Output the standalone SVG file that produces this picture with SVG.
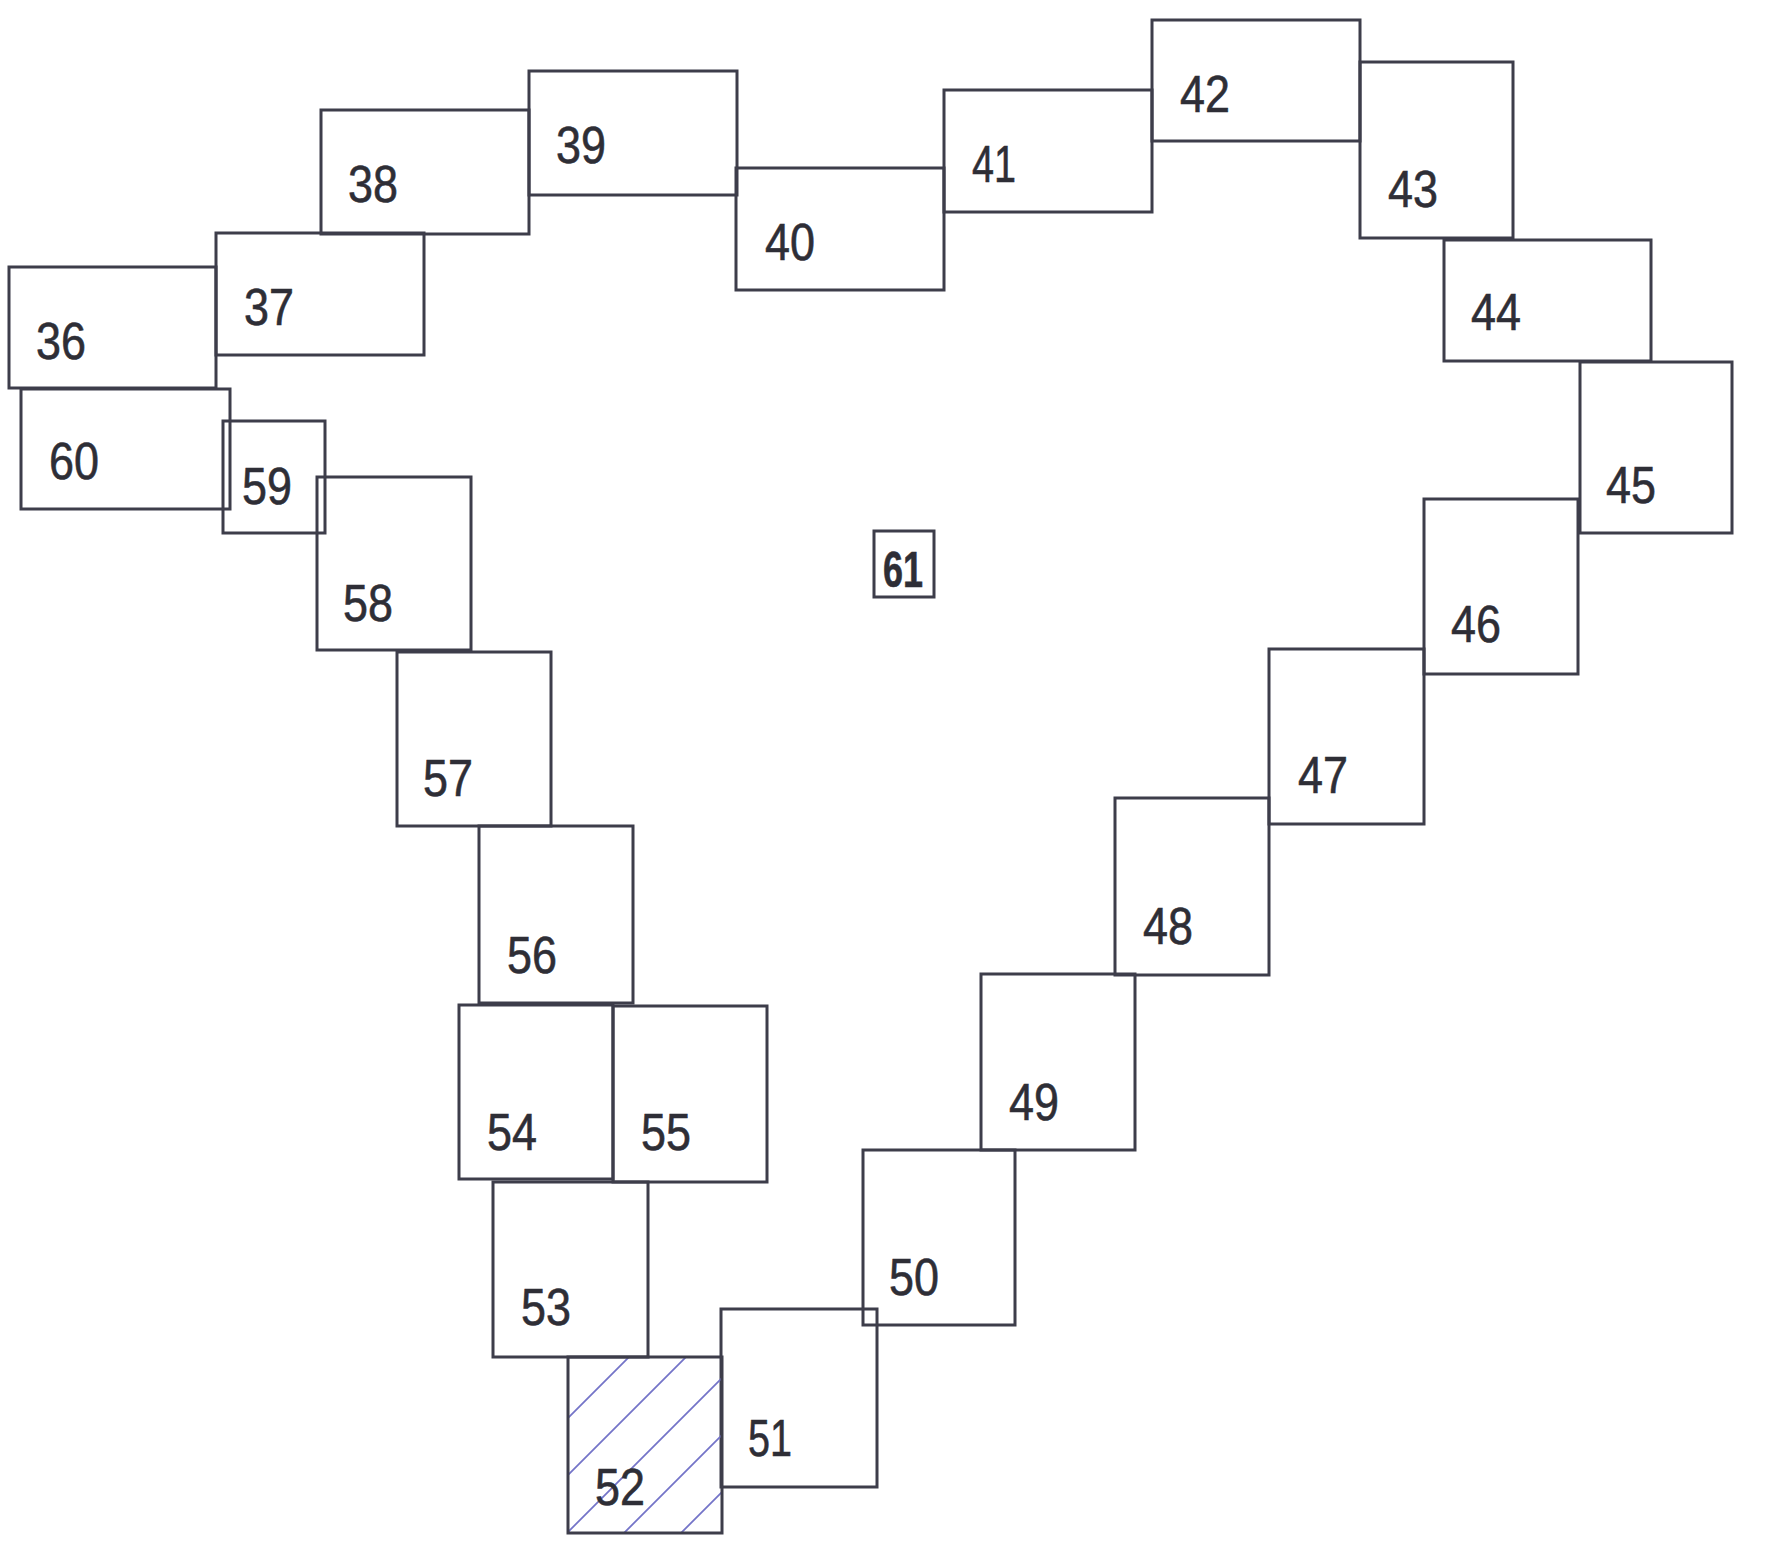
<svg xmlns="http://www.w3.org/2000/svg" width="1787" height="1544" viewBox="0 0 1787 1544">
<style>
.b{fill:none;stroke:#3d3d4a;stroke-width:3}
.t{font-family:"Liberation Sans",Arial,sans-serif;font-size:51px;fill:#2e2e36;stroke:#2e2e36;stroke-width:0.6}
.h{stroke:#7474c8;stroke-width:1.8}
</style>
<defs>
<clipPath id="c52"><rect x="568" y="1357" width="154" height="176"/></clipPath>
</defs>
<rect width="1787" height="1544" fill="#ffffff"/>
<g id="n36"><rect class="b" x="9" y="267" width="207" height="121"/><text class="t" x="36" y="359" textLength="50" lengthAdjust="spacingAndGlyphs">36</text></g>
<g id="n37"><rect class="b" x="216" y="233" width="208" height="122"/><text class="t" x="244" y="325" textLength="50" lengthAdjust="spacingAndGlyphs">37</text></g>
<g id="n38"><rect class="b" x="321" y="110" width="208" height="124"/><text class="t" x="348" y="202" textLength="50" lengthAdjust="spacingAndGlyphs">38</text></g>
<g id="n39"><rect class="b" x="529" y="71" width="208" height="124"/><text class="t" x="556" y="163" textLength="50" lengthAdjust="spacingAndGlyphs">39</text></g>
<g id="n40"><rect class="b" x="736" y="168" width="208" height="122"/><text class="t" x="765" y="260" textLength="50" lengthAdjust="spacingAndGlyphs">40</text></g>
<g id="n41"><rect class="b" x="944" y="90" width="208" height="122"/><text class="t" x="972" y="182" textLength="44" lengthAdjust="spacingAndGlyphs">41</text></g>
<g id="n42"><rect class="b" x="1152" y="20" width="208" height="121"/><text class="t" x="1180" y="112" textLength="50" lengthAdjust="spacingAndGlyphs">42</text></g>
<g id="n43"><rect class="b" x="1360" y="62" width="153" height="176"/><text class="t" x="1388" y="207" textLength="50" lengthAdjust="spacingAndGlyphs">43</text></g>
<g id="n44"><rect class="b" x="1444" y="240" width="207" height="121"/><text class="t" x="1471" y="330" textLength="50" lengthAdjust="spacingAndGlyphs">44</text></g>
<g id="n45"><rect class="b" x="1580" y="362" width="152" height="171"/><text class="t" x="1606" y="503" textLength="50" lengthAdjust="spacingAndGlyphs">45</text></g>
<g id="n46"><rect class="b" x="1424" y="499" width="154" height="175"/><text class="t" x="1451" y="642" textLength="50" lengthAdjust="spacingAndGlyphs">46</text></g>
<g id="n47"><rect class="b" x="1269" y="649" width="155" height="175"/><text class="t" x="1298" y="793" textLength="50" lengthAdjust="spacingAndGlyphs">47</text></g>
<g id="n48"><rect class="b" x="1115" y="798" width="154" height="177"/><text class="t" x="1143" y="944" textLength="50" lengthAdjust="spacingAndGlyphs">48</text></g>
<g id="n49"><rect class="b" x="981" y="974" width="154" height="176"/><text class="t" x="1009" y="1120" textLength="50" lengthAdjust="spacingAndGlyphs">49</text></g>
<g id="n50"><rect class="b" x="863" y="1150" width="152" height="175"/><text class="t" x="889" y="1295" textLength="50" lengthAdjust="spacingAndGlyphs">50</text></g>
<g id="n51"><rect class="b" x="721" y="1309" width="156" height="178"/><text class="t" x="748" y="1456" textLength="44" lengthAdjust="spacingAndGlyphs">51</text></g>
<g id="n52">
<g clip-path="url(#c52)">
<line class="h" x1="540" y1="1446" x2="650" y2="1336"/>
<line class="h" x1="540" y1="1503" x2="750" y2="1293"/>
<line class="h" x1="540" y1="1560" x2="750" y2="1350"/>
<line class="h" x1="560" y1="1597" x2="750" y2="1407"/>
<line class="h" x1="617" y1="1597" x2="750" y2="1464"/>
</g>
<rect class="b" x="568" y="1357" width="154" height="176"/><text class="t" x="595" y="1505" textLength="50" lengthAdjust="spacingAndGlyphs">52</text></g>
<g id="n53"><rect class="b" x="493" y="1182" width="155" height="175"/><text class="t" x="521" y="1325" textLength="50" lengthAdjust="spacingAndGlyphs">53</text></g>
<g id="n54"><rect class="b" x="459" y="1005" width="154" height="174"/><text class="t" x="487" y="1150" textLength="50" lengthAdjust="spacingAndGlyphs">54</text></g>
<g id="n55"><rect class="b" x="613" y="1006" width="154" height="176"/><text class="t" x="641" y="1150" textLength="50" lengthAdjust="spacingAndGlyphs">55</text></g>
<g id="n56"><rect class="b" x="479" y="826" width="154" height="177"/><text class="t" x="507" y="973" textLength="50" lengthAdjust="spacingAndGlyphs">56</text></g>
<g id="n57"><rect class="b" x="397" y="652" width="154" height="174"/><text class="t" x="423" y="796" textLength="50" lengthAdjust="spacingAndGlyphs">57</text></g>
<g id="n58"><rect class="b" x="317" y="477" width="154" height="173"/><text class="t" x="343" y="621" textLength="50" lengthAdjust="spacingAndGlyphs">58</text></g>
<g id="n59"><rect class="b" x="223" y="421" width="102" height="112"/><text class="t" x="242" y="504" textLength="50" lengthAdjust="spacingAndGlyphs">59</text></g>
<g id="n60"><rect class="b" x="21" y="389" width="209" height="120"/><text class="t" x="49" y="479" textLength="50" lengthAdjust="spacingAndGlyphs">60</text></g>
<g id="n61"><rect class="b" x="874" y="531" width="60" height="66"/><text class="t" x="883" y="587" textLength="40" lengthAdjust="spacingAndGlyphs" style="font-size:50px;font-weight:bold">61</text></g>
</svg>
